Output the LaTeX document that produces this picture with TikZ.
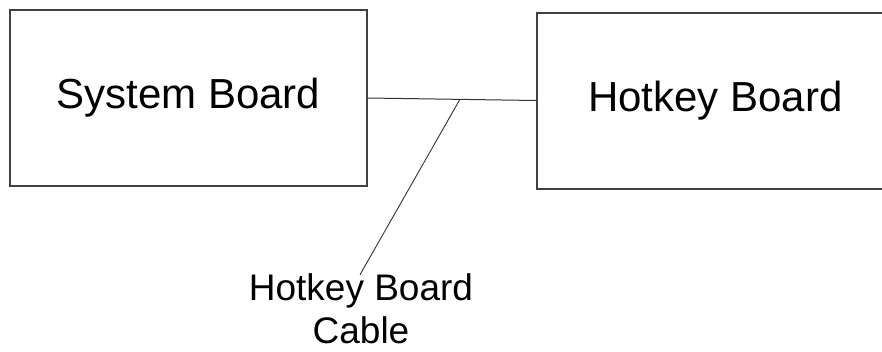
\documentclass[tikz,border=0pt]{standalone}
\usepackage{fontspec}
\setmainfont{Liberation Sans}
\usetikzlibrary{calc}
\begin{document}
\begin{tikzpicture}[x=1pt,y=-1pt,
  boardbox/.style={draw=black!75, line width=2pt, minimum height=176pt, inner sep=0pt,
    font=\fontsize{42}{48}\selectfont},
  wire/.style={draw=black!80, line width=1pt},
  cablelabel/.style={align=center, inner sep=0pt, font=\fontsize{37}{43}\selectfont}]
\useasboundingbox (0,0) rectangle (882,351);
\clip (0,0) rectangle (882,351);
\node[boardbox, minimum width=357pt] (sys) at (188.5,98) {\raisebox{-3pt}{System Board}};
\node[boardbox, minimum width=360pt] (hot) at (717,100.5) {\hspace*{-3pt}\raisebox{-1pt}{Hotkey Board}};
\node[cablelabel] (lab) at (361,309) {Hotkey Board\\Cable};
\draw[wire] (sys.east) -- coordinate[pos=0.547] (tap) (hot.west);
\coordinate (labtop) at ($(lab.north)+(-1,1)$);
\draw[wire, line width=0.9pt] (tap) -- (labtop);
\end{tikzpicture}
\end{document}
